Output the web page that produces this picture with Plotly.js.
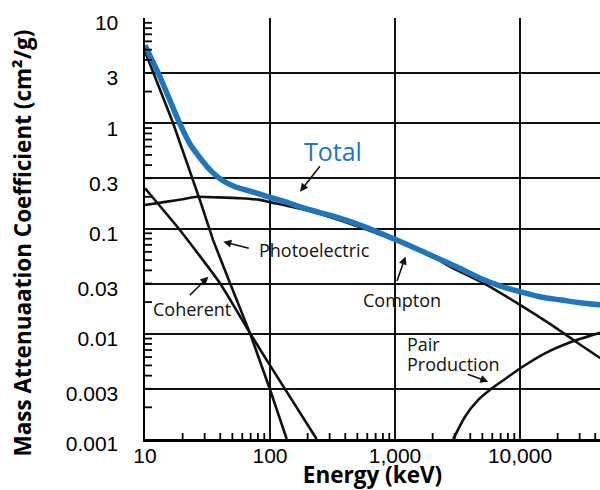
<!DOCTYPE html>
<html>
<head>
<meta charset="utf-8">
<script src="https://cdn.plot.ly/plotly-3.0.1.min.js"></script>
<style>html,body{margin:0;padding:0;background:#fff;}#chart{width:600px;height:490px;}</style>
</head>
<body>
<div id="chart"></div>
<script>
// ---- data (energy in keV, coefficient in cm^2/g) ----
const totalE   = [10, 13.2, 19, 22.9, 28.4, 34.2, 41.1, 52.5, 71.4, 96.9, 131.8, 158.5, 210, 300, 525, 1000, 1800, 3300, 4800, 7000, 10000, 15000, 21000, 30000, 44000];
const totalMu  = [5.5, 2.75, 0.99, 0.635, 0.448, 0.347, 0.289, 0.249, 0.224, 0.2, 0.18, 0.167, 0.15, 0.134, 0.108, 0.079, 0.058, 0.0419, 0.0337, 0.0284, 0.0251, 0.0222, 0.021, 0.0197, 0.0188];

const comptonE  = [10, 15, 20, 26, 35, 57.5, 83, 100, 200, 500, 1000, 2000, 2750, 5100, 10000, 17000, 26700, 44000];
const comptonMu = [0.167, 0.18, 0.19, 0.2, 0.198, 0.194, 0.187, 0.178, 0.148, 0.105, 0.077, 0.054, 0.0435, 0.0302, 0.0188, 0.0126, 0.00873, 0.00585];

const photoE  = [10, 16.8, 27.5, 35, 48, 69, 100, 136];
const photoMu = [4.8, 1.0, 0.186, 0.078, 0.03, 0.0102, 0.00295, 0.001];

const coherentE  = [10, 19, 39.8, 69, 98, 236];
const coherentMu = [0.241, 0.0968, 0.0302, 0.0102, 0.0052, 0.001];

const pairE  = [2927, 3631, 4634, 6115, 8055, 10190, 15850, 25900, 43650];
const pairMu = [0.001, 0.00163, 0.00235, 0.0031, 0.0039, 0.00475, 0.00652, 0.0084, 0.0102];

const xTickVals = [10, 100, 1000, 10000];
const xTickText = ['10', '100', '1,000', '10,000'];
const yTickVals = [10, 3, 1, 0.3, 0.1, 0.03, 0.01, 0.003, 0.001];
const yTickText = ['10', '3', '1', '0.3', '0.1', '0.03', '0.01', '0.003', '0.001'];

// ---- minor tick positions (2..9 within each decade) ----
function minorTicks(lo, hi) {
  const out = [];
  for (let d = lo; d < hi; d++) {
    for (let m = 2; m <= 9; m++) out.push(m * Math.pow(10, d));
  }
  return out;
}
const xMinor = minorTicks(1, 5).filter(v => v <= 44000);
const yMinor = minorTicks(-3, 1);

const W = 600, H = 490;
const margin = {l: 145, r: 0, t: 18, b: 51};
const plotW = W - margin.l - margin.r;
const plotH = H - margin.t - margin.b;

const blue = '#1f76bd';
const black = '#111';
const xRange = [1, 4.64];
const yRange = [-3, 1];

const traces = [
  {x: photoE, y: photoMu, mode: 'lines', line: {color: black, width: 2.6}, hoverinfo: 'skip'},
  {x: coherentE, y: coherentMu, mode: 'lines', line: {color: black, width: 2.6, shape: 'spline', smoothing: 0.5}, hoverinfo: 'skip'},
  {x: comptonE, y: comptonMu, mode: 'lines', line: {color: black, width: 2.6, shape: 'spline', smoothing: 0.6}, hoverinfo: 'skip'},
  {x: pairE, y: pairMu, mode: 'lines', line: {color: black, width: 2.6, shape: 'spline', smoothing: 0.6}, hoverinfo: 'skip'},
  {x: totalE, y: totalMu, mode: 'lines', line: {color: blue, width: 5.5, shape: 'spline', smoothing: 0.6}, hoverinfo: 'skip'}
];

const L = Math.log10;
const labelFont = {family: 'Open Sans, sans-serif', size: 18, color: '#111'};

function textAnn(text, e, mu, font, xanchor) {
  return {x: L(e), y: L(mu), xref: 'x', yref: 'y', text: text, showarrow: false,
          font: font, xanchor: xanchor || 'center', yanchor: 'middle'};
}
function arrowAnn(e, mu, ax, ay) {
  return {x: L(e), y: L(mu), xref: 'x', yref: 'y', text: '', showarrow: true,
          arrowhead: 2, arrowsize: 1, arrowwidth: 1.6, arrowcolor: '#111', ax: ax, ay: ay, standoff: 0};
}

const annotations = [
  textAnn('Total', 319, 0.54, {family: 'Open Sans, sans-serif', size: 25, color: blue}),
  arrowAnn(174, 0.224, 21, -27),
  textAnn('Photoelectric', 227, 0.0625, labelFont),
  arrowAnn(42.3, 0.075, 27, 7),
  textAnn('Coherent', 23.7, 0.0171, labelFont),
  arrowAnn(32.1, 0.0348, -20, 20),
  textAnn('Compton', 1148, 0.0209, labelFont),
  arrowAnn(1213, 0.0542, -9, 26),
  textAnn('Pair', 1202, 0.00796, labelFont, 'left'),
  textAnn('Production', 1202, 0.00518, labelFont, 'left'),
  arrowAnn(5572, 0.0035, -22, -8)
];

// minor ticks pointing into the plot (shapes take data values on log axes)
const tickLine = {color: '#000', width: 1.8};
const xTickLen = 6 / plotH;   // as a fraction of the plot height
const yTickLen = 7 / plotW;   // as a fraction of the plot width
const shapes = xMinor.map(v => ({type: 'line', layer: 'above', xref: 'x', yref: 'paper',
                                  x0: v, x1: v, y0: 0, y1: xTickLen, line: tickLine}))
  .concat(yMinor.map(v => ({type: 'line', layer: 'above', xref: 'paper', yref: 'y',
                            x0: 0, x1: yTickLen, y0: v, y1: v, line: tickLine})));

const tickFont = {family: 'Liberation Sans, Arial, sans-serif', size: 21, color: '#000'};
const titleFont = {family: 'Open Sans, sans-serif', size: 22.5, color: '#000'};
const pad = '\u00A0\u00A0\u00A0\u00A0\u00A0';

const layout = {
  width: W, height: H,
  margin: {l: margin.l, r: margin.r, t: margin.t, b: margin.b, pad: 0},
  paper_bgcolor: '#fff', plot_bgcolor: '#fff',
  showlegend: false,
  xaxis: {
    type: 'log', range: xRange,
    tickmode: 'array', tickvals: xTickVals, ticktext: xTickText,
    tickfont: tickFont, ticks: '', ticklabelstandoff: -4,
    showgrid: true, gridcolor: '#111', gridwidth: 2,
    showline: true, linecolor: '#000', linewidth: 2.5,
    zeroline: false,
    title: {text: '<b>Energy (keV)</b>', font: titleFont, standoff: 7}
  },
  yaxis: {
    type: 'log', range: yRange,
    tickmode: 'array', tickvals: yTickVals, ticktext: yTickText,
    tickfont: tickFont, ticks: '', ticklabelstandoff: 20, ticklabelshift: 5,
    showgrid: true, gridcolor: '#111', gridwidth: 2,
    showline: true, linecolor: '#000', linewidth: 2.5,
    zeroline: false,
    title: {text: '<b>Mass Attenuaation Coefficient (cm²/g)' + pad + '</b>', font: titleFont, standoff: 28}
  },
  shapes: shapes,
  annotations: annotations
};

Plotly.newPlot('chart', traces, layout, {staticPlot: true, displayModeBar: false});
</script>
</body>
</html>
